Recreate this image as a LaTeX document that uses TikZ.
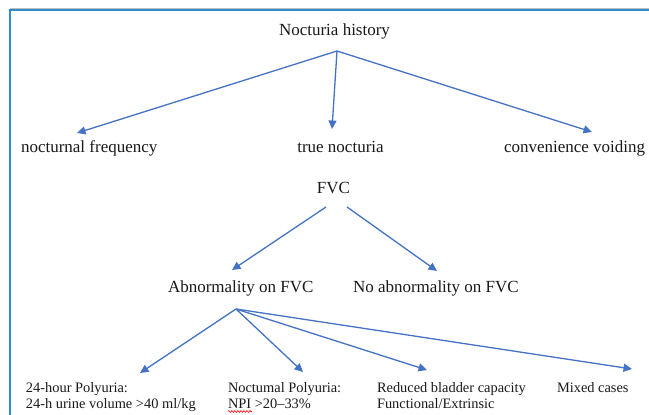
\documentclass[tikz,border=0pt]{standalone}
\usepackage{fontspec}
\setmainfont{Liberation Serif}
\usetikzlibrary{arrows.meta,decorations.pathmorphing}
\definecolor{frameblue}{HTML}{2E8BD0}
\definecolor{arrowblue}{HTML}{4472C4}
\begin{document}
\begin{tikzpicture}[x=1pt,y=-1pt,
  lab/.style={inner sep=0pt,outer sep=0pt,font=\fontsize{17}{20}\selectfont,text=black!90},
  small/.style={inner sep=0pt,outer sep=0pt,font=\fontsize{14.4}{16}\selectfont,text=black!90,align=left},
  conn/.style={draw=arrowblue,line width=1.3pt,-{Triangle[length=8.5pt,width=8pt]}}]
\useasboundingbox (0,0) rectangle (649,415);
% frame
\draw[black!25,line width=0.8pt] (10,8.3) -- (649,8.3);
\draw[frameblue,line width=1.6pt] (10,415) -- (10,10) -- (649,10);
% nodes
\node[lab,anchor=base] (hist) at (334.5,35) {Nocturia history};
\node[lab,anchor=base west] (freq) at (21,152) {nocturnal frequency};
\node[lab,anchor=base] (true) at (340.5,152) {true nocturia};
\node[lab,anchor=base west] (conv) at (504,152) {convenience voiding};
\node[lab,anchor=base] (fvc) at (333.5,193) {FVC};
\node[lab,anchor=base west] (abn) at (168,292) {Abnormality on FVC};
\node[lab,anchor=base west] (noabn) at (353,292) {No abnormality on FVC};
\node[small,anchor=base west] (poly) at (26,408) {24-hour Polyuria:\\24-h urine volume >40 ml/kg};
\node[small,anchor=base west] (noct) at (228,408) {Noctumal Polyuria:\\NPI >20--33\%};
\node[small,anchor=base west] (blad) at (377,408) {Reduced bladder capacity\\Functional/Extrinsic};
\node[small,anchor=base west] (mixed) at (557,392) {Mixed cases};
% connector ends
\coordinate (hO) at (337,51);
\coordinate (tFreq) at (77,133);
\coordinate (tTrue) at (332,129);
\coordinate (tConv) at (592,132);
\coordinate (fL) at (326,207);
\coordinate (fR) at (347,207);
\coordinate (tAbn) at (232,270);
\coordinate (tNo) at (437,271);
\coordinate (aO) at (236,309);
\coordinate (tPoly) at (140,373);
\coordinate (tNoct) at (303,372);
\coordinate (tBlad) at (427,370);
\coordinate (tMix) at (632,369);
% connectors
\draw[conn] (hO) -- (tFreq);
\draw[conn] (hO) -- (tTrue);
\draw[conn] (hO) -- (tConv);
\draw[conn] (fL) -- (tAbn);
\draw[conn] (fR) -- (tNo);
\draw[conn] (aO) -- (tPoly);
\draw[conn] (aO) -- (tNoct);
\draw[conn] (aO) -- (tBlad);
\draw[conn] (aO) -- (tMix);
% spell-check squiggle under NPI
\draw[red,line width=0.6pt,decorate,decoration={snake,segment length=3pt,amplitude=0.9pt}] (228,411.5) -- (252,411.5);
\end{tikzpicture}
\end{document}
